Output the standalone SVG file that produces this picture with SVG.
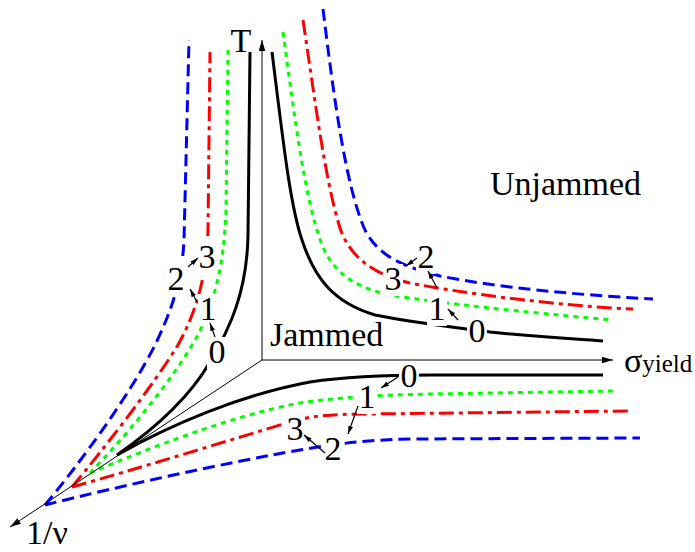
<svg xmlns="http://www.w3.org/2000/svg" width="695" height="552" viewBox="0 0 695 552" font-family="'Liberation Serif','Times New Roman',serif">
<style>
text{font-family:"Liberation Serif","Times New Roman",serif;fill:#000}
.lbl{font-size:34px;text-anchor:middle}
.big{font-size:34px}
.ax{fill:none;stroke:#000;stroke-width:1}
.c{fill:none;stroke-width:3;stroke-linecap:butt;stroke-linejoin:round}
.k{stroke:#000}
.g{stroke:#00ff00;stroke-dasharray:5 5}
.r{stroke:#ff0000;stroke-dasharray:15 5 4 5}
.b{stroke:#0000ff;stroke-dasharray:12 6}
.box{fill:#fff;stroke:none}
.arr{fill:none;stroke:#000;stroke-width:1.2}
</style>
<defs>
<marker id="axh" viewBox="0 0 10 6" refX="10" refY="3" markerWidth="11" markerHeight="7" orient="auto" markerUnits="userSpaceOnUse"><path d="M0,0 L10,3 L0,6 z" fill="#000"/></marker>
<marker id="sh" viewBox="0 0 10 6" refX="10" refY="3" markerWidth="8" markerHeight="5.5" orient="auto" markerUnits="userSpaceOnUse"><path d="M0,0 L10,3 L0,6 z" fill="#000"/></marker>
</defs>

<g id="curves">
<path class="c k" d="M117,455 C150,432 188,400 210,362 C230,328 247,292 248,235 L250,52"/>
<path class="c g" d="M90,473 C120,442 170,385 198,335 C215,300 224,265 226,210 L228,50"/>
<path class="c r" d="M72,487 C105,447 150,390 178,345 C196,312 206,280 208,230 L210,52"/>
<path class="c b" d="M45,505 C80,463 130,395 155,345 C172,310 182,280 184,240 L189,40"/>
<path class="c k" d="M272,52 C283,140 290,205 302,240 C315,280 335,303 375,315 C410,322 450,327 490,332 C540,337 575,339 603,341"/>
<path class="c g" d="M283,32 C295,120 305,200 322,245 C335,275 355,287 390,295 C440,303 520,312 613,320"/>
<path class="c r" d="M303,20 C315,100 325,180 340,228 C350,258 375,275 410,283 C460,293 560,306 633,309"/>
<path class="c b" d="M323,9 C333,90 345,185 365,230 C378,255 400,266 440,276 C500,288 580,295 653,299"/>
<path class="c k" d="M117,455 C170,425 240,395 310,382 C350,376 390,375 430,375 L603,375"/>
<path class="c g" d="M90,473 C150,448 230,416 300,403 C340,397 380,395 430,394 L613,391"/>
<path class="c r" d="M72,487 C140,468 230,440 290,422 C310,416 330,414 370,414 L628,411"/>
<path class="c b" d="M45,505 C120,486 230,462 300,450 C340,443 370,440 410,439 L640,438"/>
</g>

<g id="axes">
<path class="ax" d="M262,360 L262,40" marker-end="url(#axh)"/>
<path class="ax" d="M262,360 L613,360" marker-end="url(#axh)"/>
<path class="ax" d="M262,360 L10,527" marker-end="url(#axh)"/>
</g>

<g id="axis-labels">
<text class="big" x="241" y="52" text-anchor="middle">T</text>
<text x="624" y="372" font-size="34">σ<tspan font-size="25">yield</tspan></text>
<text class="big" x="26" y="544">1/ν</text>
<text class="big" x="270" y="346">Jammed</text>
<text class="big" x="490" y="195">Unjammed</text>
</g>

<g id="label-boxes">
<rect class="box" x="207" y="337" width="20" height="32"/>
<rect class="box" x="198" y="294" width="20" height="32"/>
<rect class="box" x="166" y="256" width="20" height="41"/>
<rect class="box" x="197" y="236" width="20" height="40"/>
<rect class="box" x="467" y="316" width="20" height="32"/>
<rect class="box" x="427" y="294" width="20" height="32"/>
<rect class="box" x="416" y="242" width="20" height="32"/>
<rect class="box" x="383" y="264" width="20" height="32"/>
<rect class="box" x="399" y="362" width="20" height="31"/>
<rect class="box" x="357" y="383" width="20" height="31"/>
<rect class="box" x="323" y="434" width="20" height="32"/>
<rect class="box" x="285" y="414" width="20" height="32"/>
</g>

<g id="labels-left">
<text class="lbl" x="217" y="363">0</text>
<text class="lbl" x="208" y="320">1</text>
<text class="lbl" x="176" y="290">2</text>
<text class="lbl" x="207" y="268">3</text>
</g>
<g id="labels-right">
<text class="lbl" x="477" y="342">0</text>
<text class="lbl" x="437" y="320">1</text>
<text class="lbl" x="426" y="268">2</text>
<text class="lbl" x="393" y="290">3</text>
</g>
<g id="labels-bottom">
<text class="lbl" x="409" y="387">0</text>
<text class="lbl" x="367" y="408">1</text>
<text class="lbl" x="333" y="460">2</text>
<text class="lbl" x="295" y="440">3</text>
</g>

<g id="arrows">
<path class="arr" d="M215,337 L210,323" marker-end="url(#sh)"/>
<path class="arr" d="M197,302 L190,289" marker-end="url(#sh)"/>
<path class="arr" d="M188,267 L198,258" marker-end="url(#sh)"/>
<path class="arr" d="M458,320 L448,309" marker-end="url(#sh)"/>
<path class="arr" d="M437,288 L428,271" marker-end="url(#sh)"/>
<path class="arr" d="M417,258 L406,266" marker-end="url(#sh)"/>
<path class="arr" d="M398,377 L381,388" marker-end="url(#sh)"/>
<path class="arr" d="M358,406 L348,434" marker-end="url(#sh)"/>
<path class="arr" d="M325,453 L304,435" marker-end="url(#sh)"/>
</g>
</svg>
